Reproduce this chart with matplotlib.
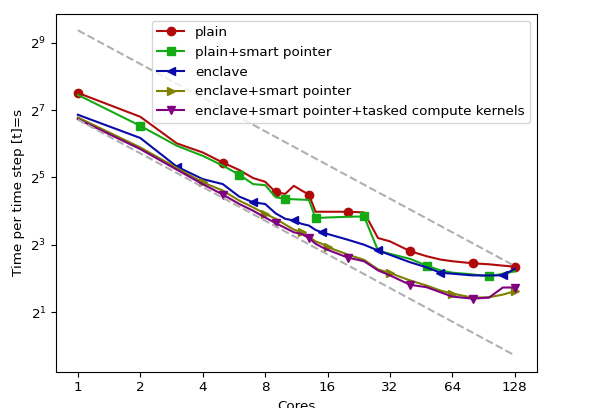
import numpy as np
import matplotlib
matplotlib.use("Agg")
import matplotlib.pyplot as plt

cores = [1, 2, 3, 4, 5, 6, 7, 8, 9, 10, 11, 12, 13, 14, 15, 16,
         20, 24, 28, 32, 40, 48, 56, 64, 80, 96, 112, 128]

# log2 of time per step
plain_log2 = [7.51, 6.80, 6.01, 5.74, 5.44, 5.22, 4.98, 4.87, 4.56, 4.51, 4.75, 4.61, 4.49, 3.98,
              3.98, 3.98, 3.98, 3.96, 3.20, 3.10, 2.81, 2.66, 2.56, 2.51, 2.45, 2.42, 2.38, 2.35]
plain_sp_log2 = [7.45, 6.53, 5.94, 5.64, 5.35, 5.08, 4.80, 4.77, 4.41, 4.36, 4.35, 4.34, 4.33, 3.79,
                 3.80, 3.81, 3.83, 3.84, 2.83, 2.73, 2.58, 2.38, 2.24, 2.17, 2.12, 2.06, 2.14, 2.21]
enclave_log2 = [6.86, 6.17, 5.32, 4.95, 4.80, 4.43, 4.26, 4.21, 3.93, 3.77, 3.72, 3.62, 3.57, 3.44,
                3.37, 3.32, 3.15, 3.00, 2.83, 2.70, 2.48, 2.33, 2.17, 2.14, 2.09, 2.09, 2.09, 2.29]
enclave_sp_log2 = [6.78, 5.89, 5.28, 4.85, 4.61, 4.31, 4.11, 3.92, 3.77, 3.60, 3.45, 3.37, 3.24, 3.10,
                   3.03, 2.93, 2.71, 2.55, 2.27, 2.16, 1.94, 1.79, 1.64, 1.55, 1.43, 1.44, 1.52, 1.62]
tasked_log2 = [6.73, 5.84, 5.23, 4.80, 4.49, 4.21, 4.01, 3.81, 3.64, 3.50, 3.37, 3.32, 3.20, 3.03,
               2.93, 2.85, 2.62, 2.51, 2.24, 2.09, 1.81, 1.74, 1.59, 1.46, 1.40, 1.43, 1.73, 1.73]

ideal_cores = [1, 128]
ideal_upper = [661.0, 5.16]
ideal_lower = [105.0, 0.82]

labels = ["plain", "plain+smart pointer", "enclave", "enclave+smart pointer",
          "enclave+smart pointer+tasked compute kernels"]
xtick_vals = [1, 2, 4, 8, 16, 32, 64, 128]
ytick_exps = [1, 3, 5, 7, 9]

series = [plain_log2, plain_sp_log2, enclave_log2, enclave_sp_log2, tasked_log2]
colors = ["#b00a0a", "#14aa14", "#0a0aaa", "#808000", "#800080"]
markers = ["o", "s", "<", ">", "v"]
marks = [[0, 4, 8, 12, 16, 20, 24, 27],
         [1, 5, 9, 13, 17, 21, 25],
         [2, 6, 10, 14, 18, 22, 26],
         [3, 7, 11, 15, 19, 23, 27],
         [4, 8, 12, 16, 20, 24, 27]]

plt.rcParams["font.size"] = 9.7

fig = plt.figure(figsize=(6.04, 4.08), dpi=100)
ax = fig.add_axes([0.0927, 0.0890, 0.7959, 0.8767])

for s, c, m, me, lab in zip(series, colors, markers, marks, labels):
    ax.plot(cores, np.power(2.0, s), color=c, marker=m, markevery=me,
            markersize=6, linewidth=1.5, label=lab)

ax.plot(ideal_cores, ideal_upper, linestyle="--", color="#b0b0b0", linewidth=1.5)
ax.plot(ideal_cores, ideal_lower, linestyle="--", color="#b0b0b0", linewidth=1.5)

ax.set_xscale("log", base=2)
ax.set_yscale("log", base=2)
ax.set_xticks(xtick_vals)
ax.set_xticklabels([str(v) for v in xtick_vals])
ax.set_yticks([2.0 ** e for e in ytick_exps])
ax.set_yticklabels([r"$2^{%d}$" % e for e in ytick_exps])
ax.minorticks_off()

ax.set_xlabel("Cores")
ax.set_ylabel("Time per time step [t]=s")
ax.legend(loc="upper right")

fig.savefig("out.png", dpi=100)
